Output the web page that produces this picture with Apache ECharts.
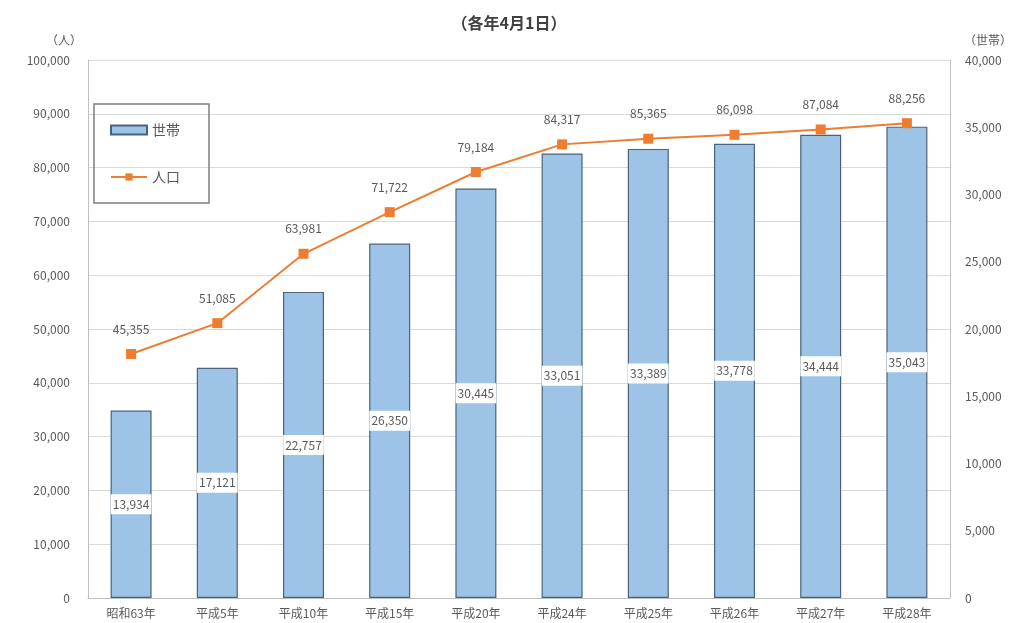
<!DOCTYPE html>
<html>
<head>
<meta charset="utf-8">
<script src="https://cdn.jsdelivr.net/npm/echarts@6/dist/echarts.min.js"></script>
<style>
  html, body { margin: 0; padding: 0; background: #fff; }
  #chart { width: 1018px; height: 623px; }
</style>
</head>
<body>
<div id="chart"></div>
<script>
// 年次（各年4月1日現在）
const categories = ['昭和63年', '平成5年', '平成10年', '平成15年', '平成20年', '平成24年', '平成25年', '平成26年', '平成27年', '平成28年'];
// 世帯数
const households = [13934, 17121, 22757, 26350, 30445, 33051, 33389, 33778, 34444, 35043];
// 人口
const population = [45355, 51085, 63981, 71722, 79184, 84317, 85365, 86098, 87084, 88256];

const FONT = '"Noto Sans CJK JP", "Noto Sans", sans-serif';
const TEXT = '#595959';
const fmt = v => Number(v).toLocaleString('en-US');

const chart = echarts.init(document.getElementById('chart'));
chart.setOption({
  animation: false,
  textStyle: { fontFamily: FONT },
  title: {
    text: '（各年4月1日）',
    left: 'center',
    top: 10,
    textStyle: { fontSize: 16, fontWeight: 'bold', color: '#404040', fontFamily: FONT }
  },
  legend: {
    orient: 'vertical',
    left: 94,
    top: 104,
    width: 114,
    padding: [19, 29, 19, 16],
    itemGap: 33,
    itemWidth: 36,
    itemHeight: 9,
    borderColor: '#7f7f7f',
    borderWidth: 1.5,
    textStyle: { fontSize: 14, color: TEXT, fontFamily: FONT },
    data: [
      { name: '世帯', icon: 'rect' },
      { name: '人口' }
    ]
  },
  grid: { left: 88, right: 68, top: 60, bottom: 25, containLabel: false },
  xAxis: {
    type: 'category',
    data: categories,
    axisLine: { lineStyle: { color: '#bfbfbf' } },
    axisTick: { show: false },
    axisLabel: { color: TEXT, fontSize: 12, margin: 9, interval: 0 }
  },
  yAxis: [
    {
      type: 'value',
      min: 0, max: 100000, interval: 10000,
      name: '（人）',
      nameLocation: 'end',
      nameGap: 14,
      nameTextStyle: { color: TEXT, fontSize: 12, align: 'right', padding: [0, 6, 0, 0] },
      axisLine: { show: true, lineStyle: { color: '#bfbfbf' } },
      axisTick: { show: false },
      axisLabel: { color: TEXT, fontSize: 12, margin: 18, formatter: fmt },
      splitLine: { lineStyle: { color: '#d9d9d9' } }
    },
    {
      type: 'value',
      min: 0, max: 40000, interval: 5000,
      name: '（世帯）',
      nameLocation: 'end',
      nameGap: 14,
      nameTextStyle: { color: TEXT, fontSize: 12, align: 'left', padding: [0, 0, 0, 14] },
      axisLine: { show: true, lineStyle: { color: '#bfbfbf' } },
      axisTick: { show: false },
      axisLabel: { color: TEXT, fontSize: 12, margin: 15, formatter: fmt },
      splitLine: { show: false }
    }
  ],
  series: [
    {
      name: '世帯',
      type: 'bar',
      yAxisIndex: 1,
      data: households,
      barWidth: 41,
      itemStyle: { color: '#9dc3e6', borderColor: '#4a6378', borderWidth: 1.2 },
      label: {
        show: true,
        position: 'inside',
        color: TEXT,
        fontSize: 12,
        backgroundColor: '#ffffff',
        padding: [4, 2, 4, 2],
        formatter: p => fmt(p.value)
      }
    },
    {
      name: '人口',
      type: 'line',
      yAxisIndex: 0,
      data: population,
      symbol: 'rect',
      symbolSize: 10,
      lineStyle: { color: '#ed7d31', width: 2 },
      itemStyle: { color: '#ed7d31' },
      label: {
        show: true,
        position: 'top',
        distance: 14,
        color: TEXT,
        fontSize: 12,
        formatter: p => fmt(p.value)
      }
    }
  ]
});
</script>
</body>
</html>
